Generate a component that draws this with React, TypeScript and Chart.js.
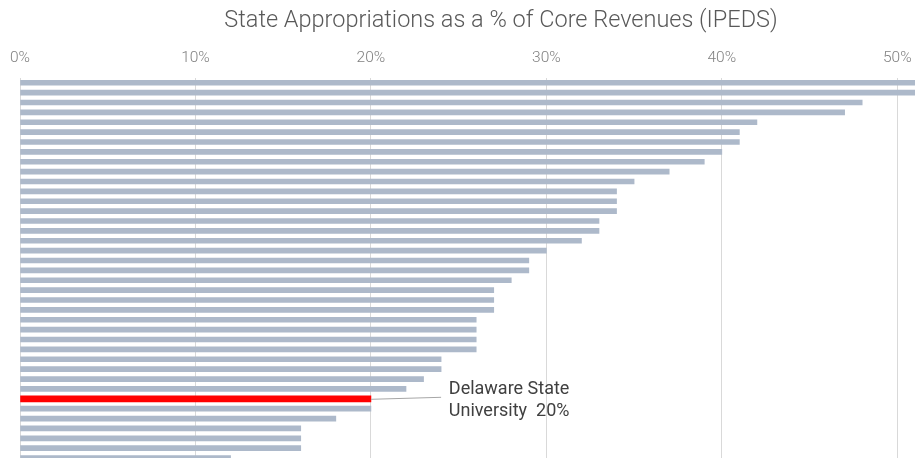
import React, { useEffect, useRef } from "react";
import { Chart, registerables } from "chart.js";

Chart.register(...registerables);

const TITLE = "State Appropriations as a % of Core Revenues (IPEDS)";
const HIGHLIGHT_NAME = "Delaware State University";
const HIGHLIGHT_LABEL = ["Delaware State", "University  20%"];

const institutions: string[] = [
  "Institution 1", "Institution 2", "Institution 3", "Institution 4", "Institution 5",
  "Institution 6", "Institution 7", "Institution 8", "Institution 9", "Institution 10",
  "Institution 11", "Institution 12", "Institution 13", "Institution 14", "Institution 15",
  "Institution 16", "Institution 17", "Institution 18", "Institution 19", "Institution 20",
  "Institution 21", "Institution 22", "Institution 23", "Institution 24", "Institution 25",
  "Institution 26", "Institution 27", "Institution 28", "Institution 29", "Institution 30",
  "Institution 31", "Institution 32", "Delaware State University", "Institution 34", "Institution 35",
  "Institution 36", "Institution 37", "Institution 38", "Institution 39",
];

const appropriationPct: number[] = [
  54, 52, 48, 47, 42, 41, 41, 40, 39, 37,
  35, 34, 34, 34, 33, 33, 32, 30, 29, 29,
  28, 27, 27, 27, 26, 26, 26, 26, 24, 24,
  23, 22, 20, 20, 18, 16, 16, 16, 12,
];

const X_TICKS_MAX = 55;
const X_STEP = 10;

export default function App() {
  const canvasRef = useRef<HTMLCanvasElement | null>(null);

  useEffect(() => {
    const canvas = canvasRef.current;
    if (!canvas) return;
    const hi = institutions.indexOf(HIGHLIGHT_NAME);

    const greyData = appropriationPct.map((v, i) => (i === hi ? null : v));
    const redData = appropriationPct.map((v, i) => (i === hi ? v : null));

    const callout = {
      id: "callout",
      afterDatasetsDraw(chart: any) {
        const { ctx, scales } = chart;
        const x = scales.x;
        const y = scales.y;
        const v = appropriationPct[hi];
        const x0 = x.getPixelForValue(v);
        const y0 = y.getPixelForValue(hi);
        const x1 = x.getPixelForValue(v + 4);
        ctx.save();
        ctx.strokeStyle = "#a6a6a6";
        ctx.lineWidth = 1;
        ctx.beginPath();
        ctx.moveTo(x0, y0 + 0.5);
        ctx.lineTo(x1, y0 - 1.5);
        ctx.stroke();
        ctx.fillStyle = "#404040";
        ctx.font = "400 18px Roboto";
        ctx.textAlign = "center";
        ctx.textBaseline = "alphabetic";
        const cx = x1 + 68;
        ctx.fillText(HIGHLIGHT_LABEL[0], cx, y0 - 5);
        ctx.fillText(HIGHLIGHT_LABEL[1], cx, y0 + 17);
        ctx.restore();
      },
    };

    const chart = new Chart(canvas, {
      type: "bar",
      data: {
        labels: institutions,
        datasets: [
          {
            data: greyData as any,
            backgroundColor: "#adb9ca",
            barThickness: 5,
            grouped: false,
            skipNull: true,
          } as any,
          {
            data: redData as any,
            backgroundColor: "#ff0000",
            barThickness: 6,
            grouped: false,
            skipNull: true,
          } as any,
        ],
      },
      options: {
        indexAxis: "y",
        animation: false,
        responsive: true,
        maintainAspectRatio: false,
        layout: { padding: { left: 17, right: 21, top: 0, bottom: 0 } },
        plugins: {
          legend: { display: false },
          tooltip: { enabled: false },
          title: {
            display: true,
            text: TITLE,
            color: "#595959",
            font: { family: "Roboto", size: 23.5, weight: "300" as any },
            padding: { top: 7, bottom: 4 },
          },
        },
        scales: {
          x: {
            position: "top",
            min: 0,
            max: X_TICKS_MAX,
            grid: { color: "#d9d9d9", drawTicks: false, lineWidth: 1 },
            border: { display: false },
            ticks: {
              stepSize: X_STEP,
              includeBounds: false,
              color: "#808080",
              padding: 10,
              font: { family: "Roboto", size: 15.5, weight: "300" as any },
              callback: (v: any) => `${v}%`,
            },
          },
          y: {
            display: false,
            grid: { display: false },
          },
        },
      },
      plugins: [callout],
    });

    return () => chart.destroy();
  }, []);

  return (
    <div style={{ position: "fixed", left: 0, top: 0, width: 915, height: 458, overflow: "hidden", background: "#fff" }}>
      <div style={{ position: "absolute", left: 0, top: 0, width: 1006, height: 463 }}>
        <canvas ref={canvasRef} />
      </div>
    </div>
  );
}
